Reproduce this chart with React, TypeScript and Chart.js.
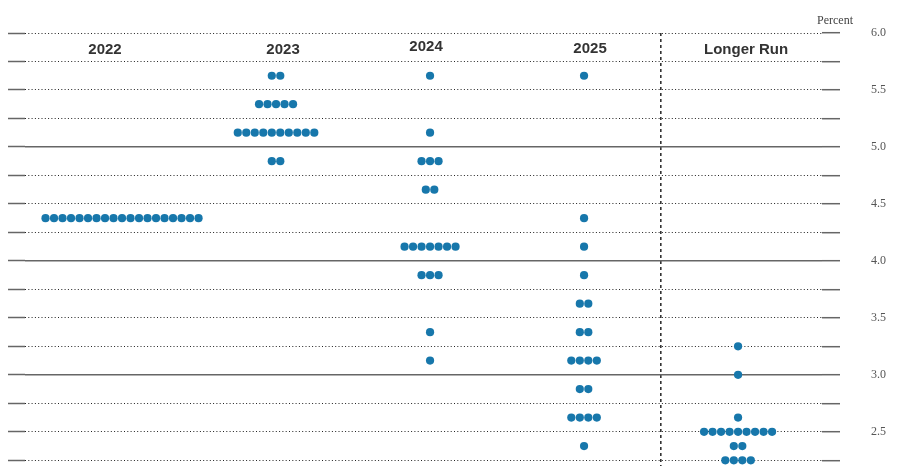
import React, { useEffect, useRef } from "react";
import { Chart, registerables } from "chart.js";

Chart.register(...registerables);

// ---- Data ----
const categories = ["2022", "2023", "2024", "2025", "Longer Run"];

const rates2022 = [4.375];
const counts2022 = [19];

const rates2023 = [5.625, 5.375, 5.125, 4.875];
const counts2023 = [2, 5, 10, 2];

const rates2024 = [5.625, 5.125, 4.875, 4.625, 4.125, 3.875, 3.375, 3.125];
const counts2024 = [1, 1, 3, 2, 7, 3, 1, 1];

const rates2025 = [5.625, 4.375, 4.125, 3.875, 3.625, 3.375, 3.125, 2.875, 2.625, 2.375];
const counts2025 = [1, 1, 1, 1, 2, 2, 4, 2, 4, 1];

const ratesLonger = [3.25, 3.0, 2.625, 2.5, 2.375, 2.25];
const countsLonger = [1, 1, 1, 9, 2, 4];

const tickValues = [2.25, 2.5, 2.75, 3.0, 3.25, 3.5, 3.75, 4.0, 4.25, 4.5, 4.75, 5.0, 5.25, 5.5, 5.75, 6.0];
const solidLevels = [3.0, 4.0, 5.0];

// ---- Style / layout constants ----
const DOT_STEP = 0.0552; // horizontal spacing between stacked dots, in category units
const DOT_COLOR = "#1777ab";
const labelDx = [-17, 7, -4, 6, 8];
const labelDy = [0, 0, -3, -1, 0];
const Y_MIN = 2.166;
const Y_MAX = 6.0;

const allRates = [rates2022, rates2023, rates2024, rates2025, ratesLonger];
const allCounts = [counts2022, counts2023, counts2024, counts2025, countsLonger];

function buildPoints() {
  const pts: { x: number; y: number }[] = [];
  allRates.forEach((rates, c) => {
    rates.forEach((r, k) => {
      const n = allCounts[c][k];
      for (let i = 0; i < n; i++) {
        pts.push({ x: c + (i - (n - 1) / 2) * DOT_STEP, y: r });
      }
    });
  });
  return pts;
}

const isSolid = (v: number) => solidLevels.some((s) => Math.abs(s - v) < 1e-9);

const textPlugin = {
  id: "dotPlotText",
  afterDraw(chart: any) {
    const { ctx, chartArea, scales } = chart;
    ctx.save();
    ctx.font = 'bold 15px "Liberation Sans", Arial, sans-serif';
    ctx.fillStyle = "#333";
    ctx.textAlign = "center";
    ctx.textBaseline = "middle";
    categories.forEach((c, i) => {
      const x = scales.x.getPixelForValue(i) + labelDx[i];
      ctx.fillText(c, x, chartArea.top + 17 + labelDy[i]);
    });
    ctx.font = '12px "Liberation Serif", "Times New Roman", serif';
    ctx.fillStyle = "#444";
    ctx.textAlign = "right";
    ctx.fillText("Percent", chartArea.right + 31, chartArea.top - 12);
    ctx.restore();
  },
};

export default function App() {
  const ref = useRef<HTMLCanvasElement | null>(null);

  useEffect(() => {
    if (!ref.current) return;
    const setTicks = (s: any) => {
      s.ticks = tickValues.map((v) => ({ value: v }));
    };
    const chart = new Chart(ref.current, {
      type: "scatter",
      data: {
        datasets: [
          {
            data: buildPoints(),
            pointRadius: 4.1,
            pointHoverRadius: 4.1,
            pointBackgroundColor: DOT_COLOR,
            pointBorderWidth: 0,
            borderWidth: 0,
          },
        ],
      },
      options: {
        animation: false,
        responsive: false,
        layout: { padding: { top: 25, right: 0, left: 0, bottom: 0 } },
        plugins: { legend: { display: false }, tooltip: { enabled: false } },
        scales: {
          x: {
            type: "linear",
            position: "top",
            min: -0.63,
            max: 4.545,
            afterBuildTicks: (s: any) => {
              s.ticks = [{ value: categories.length - 1.5 }];
            },
            ticks: { display: false },
            grid: { drawTicks: false, color: "#333", lineWidth: 1.6 },
            border: { display: false, dash: [3, 3] },
          },
          y: {
            type: "linear",
            position: "right",
            min: Y_MIN,
            max: Y_MAX,
            afterBuildTicks: setTicks,
            afterFit: (s: any) => {
              s.paddingTop = 0;
              s.paddingBottom = 0;
              s.width = 70;
            },
            ticks: {
              autoSkip: false,
              padding: 31,
              color: "#555",
              font: { family: '"Liberation Serif", "Times New Roman", serif', size: 12 },
              callback: (v: any) => {
                const n = Number(v);
                return Math.abs(n * 2 - Math.round(n * 2)) < 1e-9 ? n.toFixed(1) : "";
              },
            },
            grid: {
              color: (c: any) => (c.tick && isSolid(c.tick.value) ? "#666" : "rgba(0,0,0,0)"),
              lineWidth: 1.4,
              tickLength: 18,
              tickColor: "#666",
              tickWidth: 1.5,
            },
            border: { display: false },
          },
          yDot: {
            type: "linear",
            position: "left",
            min: Y_MIN,
            max: Y_MAX,
            afterBuildTicks: setTicks,
            ticks: { display: false },
            grid: {
              color: (c: any) => (c.tick && isSolid(c.tick.value) ? "rgba(0,0,0,0)" : "#222"),
              lineWidth: 1,
              tickLength: 17,
              tickColor: "#666",
              tickWidth: 1.5,
              tickBorderDash: [],
            },
            border: { display: false, dash: [1, 2.3] },
          },
        },
      },
      plugins: [textPlugin],
    });
    return () => chart.destroy();
  }, []);

  return (
    <div style={{ width: 884, height: 466, marginBottom: -8 }}>
      <canvas ref={ref} width={884} height={466} style={{ display: "block" }} />
    </div>
  );
}
